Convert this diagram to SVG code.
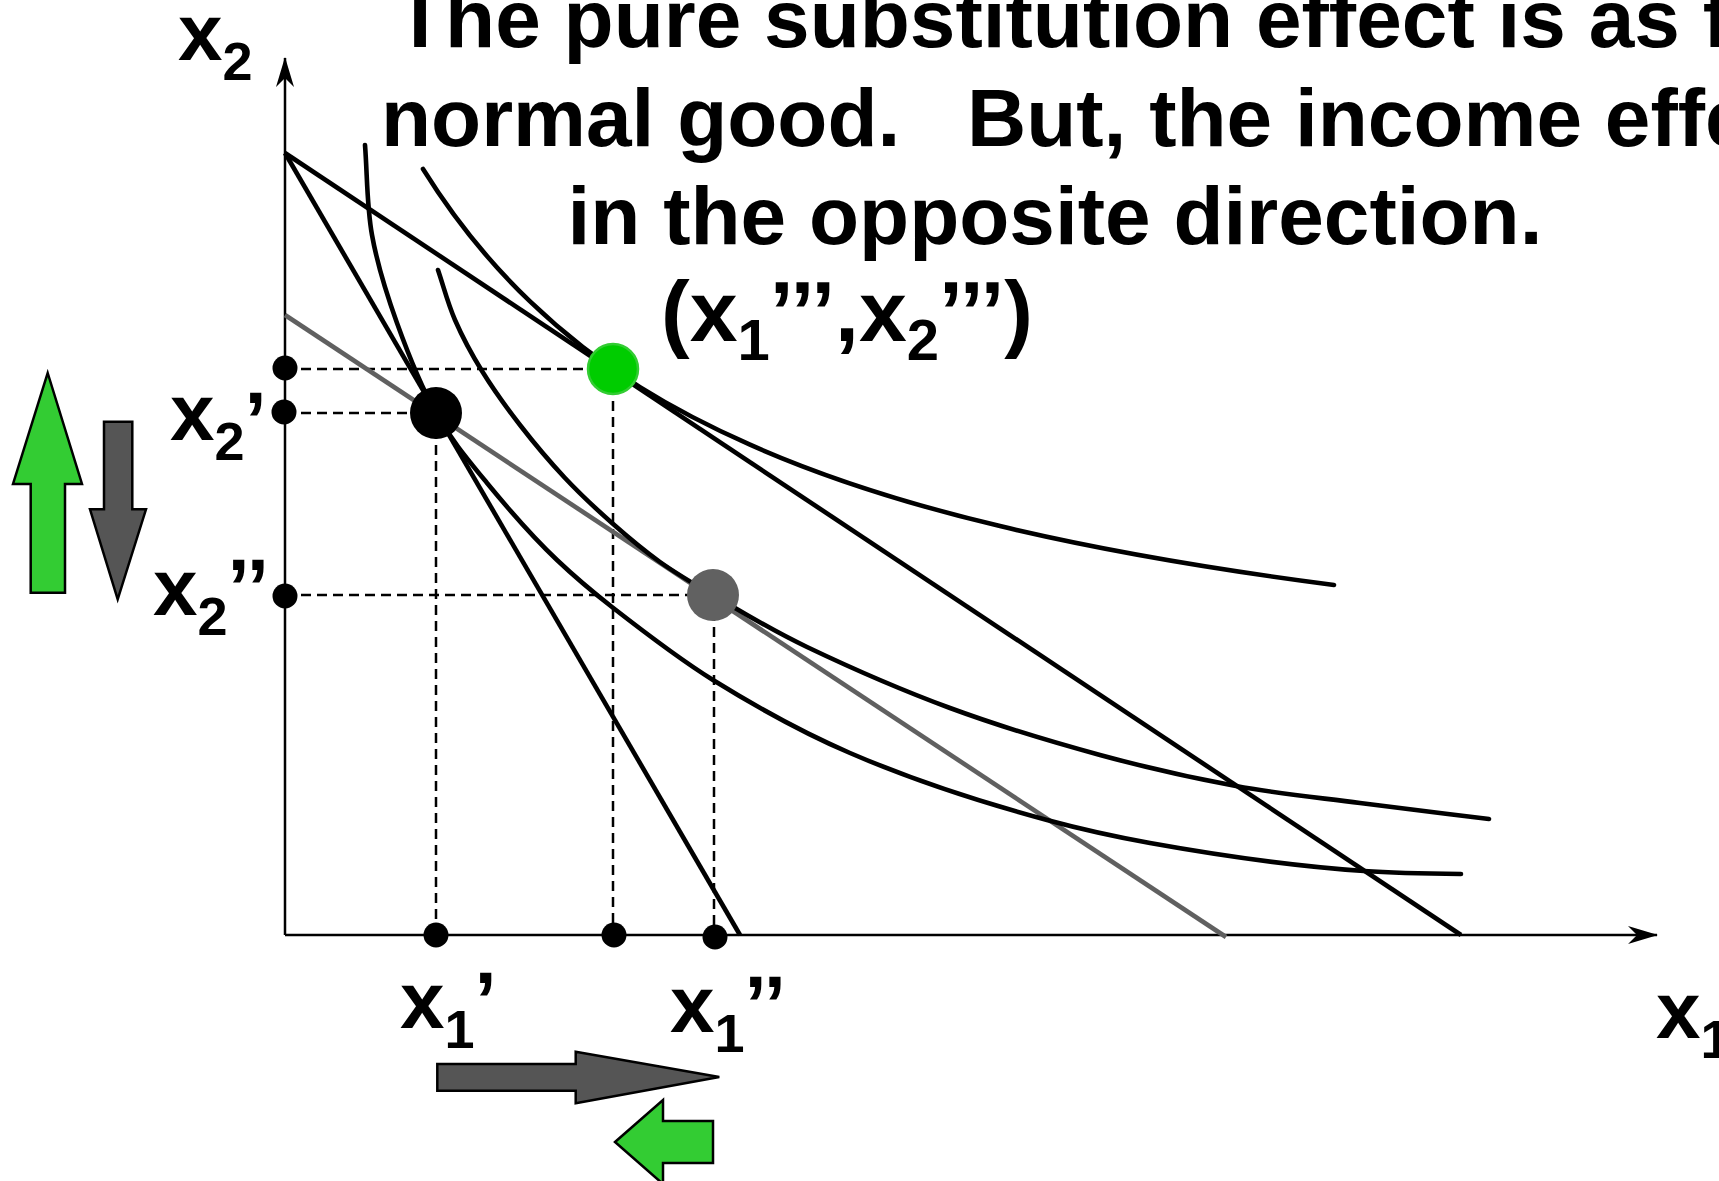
<svg xmlns="http://www.w3.org/2000/svg" width="1719" height="1181" viewBox="0 0 1719 1181">
<defs>
<marker id="ah" viewBox="0 0 30 20" refX="29" refY="10" markerWidth="30" markerHeight="20" markerUnits="userSpaceOnUse" orient="auto">
<path d="M0,1 L30,10 L0,19 L9,10 Z" fill="#000"/>
</marker>
<style>
.ax{stroke:#000;stroke-width:2.5;fill:none}
.bl{stroke:#000;stroke-width:4.6;fill:none}
.gl{stroke:#606060;stroke-width:4.6;fill:none}
.ic{stroke:#000;stroke-width:4.6;fill:none;stroke-linecap:round}
.dash{stroke:#000;stroke-width:2.5;stroke-dasharray:10,6;fill:none}
.sd{fill:#000}
.t{font-family:"Liberation Sans",Arial,Helvetica,sans-serif;font-weight:bold;fill:#000}
.lab{font-size:80px}
.sub{font-size:54px}
.lab2{font-size:86px}
.sub2{font-size:58px}
.ttl{font-size:82px}
.blk{stroke:#000;stroke-width:2.5}
</style>
</defs>
<rect width="1719" height="1181" fill="#fff"/>

<g id="title" class="t ttl">
<text x="395" y="47">The pure substitution effect is as f</text>
<text x="381" y="146">normal good.</text>
<text x="967" y="146">But, the income effe</text>
<text x="1055" y="244" text-anchor="middle">in the opposite direction.</text>
</g>

<g id="connectors">
<g id="axes">
<line class="ax" x1="285" y1="935" x2="285" y2="58" marker-end="url(#ah)"/>
<line class="ax" x1="285" y1="935" x2="1657" y2="935" marker-end="url(#ah)"/>
</g>
<g id="guides">
<line class="dash" x1="285" y1="369" x2="613" y2="369"/>
<line class="dash" x1="285" y1="413" x2="436" y2="413"/>
<line class="dash" x1="285" y1="595" x2="713" y2="595"/>
<line class="dash" x1="436" y1="413" x2="436" y2="935"/>
<line class="dash" x1="613" y1="369" x2="613" y2="935"/>
<line class="dash" x1="714" y1="595" x2="714" y2="935"/>
</g>
<g id="budget-lines">
<line class="bl" x1="285" y1="153" x2="740" y2="935"/>
<line class="bl" x1="285" y1="153" x2="1461" y2="935"/>
<line class="gl" x1="285" y1="315" x2="1226" y2="937"/>
</g>
<g id="indifference-curves">
<path id="ic1" class="ic" d="M365,145 C367.33,175 366.67,205.33 372,235 C377.33,264.67 386.33,293.33 397,323 C407.67,352.67 421,386.33 436,413 C451,439.67 466.83,458.5 487,483 C507.17,507.5 531.5,535.83 557,560 C575.33,577.42 593.67,592.7 612,607 C645.67,633.26 679.33,659.13 713,680 C758.67,708.31 804.33,733.36 850,753 C915.67,781.24 981.33,802.27 1047,820 C1081.33,829.27 1115.67,836.82 1150,843 C1221.33,855.84 1292.67,866.01 1364,871 C1396.33,873.26 1428.67,873.68 1461,874"/>
<path id="ic2" class="ic" d="M438,270 C443.67,286.67 447.67,303.17 455,320 C462.33,336.83 471.17,353.5 482,371 C492.83,388.5 506.17,407.17 520,425 C533.83,442.83 549.67,461.67 565,478 C580.33,494.33 596.17,509 612,523 C627.83,537 643.17,550 660,562 C676.83,574 688.5,580.83 713,595 C737.5,609.17 767.5,628.17 807,647 C846.5,665.83 901.17,690 950,708 C998.83,726 1052.33,742 1100,755 C1147.67,768 1192.67,778 1236,786 C1279.33,794 1317.83,797.5 1360,803 C1402.17,808.5 1446,813.67 1489,819"/>
<path id="ic3" class="ic" d="M423,169 C458.67,226.2 494.33,267.3 530,301.4 C603.33,371.5 676.67,412.2 750,444.7 C833.33,481.7 916.67,506.2 1000,526.1 C1111.33,552.7 1222.67,570.5 1334,585"/>
</g>
</g>

<g id="axis-ticks">
<circle class="sd" cx="285" cy="368" r="12.5"/>
<circle class="sd" cx="284" cy="412" r="12.5"/>
<circle class="sd" cx="285" cy="596" r="12.5"/>
<circle class="sd" cx="436" cy="935" r="12.5"/>
<circle class="sd" cx="614" cy="935" r="12.5"/>
<circle class="sd" cx="715" cy="937" r="12.5"/>
</g>

<g id="point-original"><circle cx="436" cy="413" r="26" fill="#000"/></g>
<g id="point-final"><circle cx="613" cy="369" r="25" fill="#00cc00" stroke="#33cc33" stroke-width="2.5"/></g>
<g id="point-compensated"><circle cx="713" cy="595" r="26" fill="#616161"/></g>

<g id="label-x2-axis" class="t"><text x="178" y="60"><tspan class="lab">x</tspan><tspan class="sub" dy="20">2</tspan></text></g>
<g id="label-x1-axis" class="t"><text x="1656" y="1038"><tspan class="lab">x</tspan><tspan class="sub" dy="20">1</tspan></text></g>
<g id="label-x2p" class="t"><text x="170" y="440"><tspan class="lab">x</tspan><tspan class="sub" dy="20">2</tspan><tspan class="lab" dy="-12">’</tspan></text></g>
<g id="label-x2pp" class="t"><text x="153" y="615"><tspan class="lab">x</tspan><tspan class="sub" dy="20">2</tspan><tspan class="lab" dy="-20">’’</tspan></text></g>
<g id="label-x1p" class="t"><text x="400" y="1028"><tspan class="lab">x</tspan><tspan class="sub" dy="20">1</tspan><tspan class="lab" dy="-20">’</tspan></text></g>
<g id="label-x1pp" class="t"><text x="670" y="1032"><tspan class="lab">x</tspan><tspan class="sub" dy="20">1</tspan><tspan class="lab" dy="-20">’’</tspan></text></g>
<g id="label-final" class="t"><text x="661" y="341"><tspan class="lab2">(x</tspan><tspan class="sub2" dy="19">1</tspan><tspan class="lab2" dy="-19">’’’,x</tspan><tspan class="sub2" dy="19">2</tspan><tspan class="lab2" dy="-19">’’’)</tspan></text></g>

<g id="arrow-x2-income" class="blk"><polygon points="47.7,373 82,484 65,484 65,592.7 30.7,592.7 30.7,484 13,484" fill="#33cc33"/></g>
<g id="arrow-x2-subst" class="blk"><polygon points="104,421.7 132.3,421.7 132.3,509.3 146,509.3 117.7,599.3 90,509.3 104,509.3" fill="#555555"/></g>
<g id="arrow-x1-subst" class="blk"><polygon points="437.3,1064 575.7,1064 575.7,1051.7 719.3,1077 575.7,1103.3 575.7,1090.7 437.3,1090.7" fill="#555555"/></g>
<g id="arrow-x1-income" class="blk"><polygon points="615,1142 663,1100 663,1121 713,1121 713,1163 663,1163 663,1184" fill="#33cc33"/></g>
</svg>
